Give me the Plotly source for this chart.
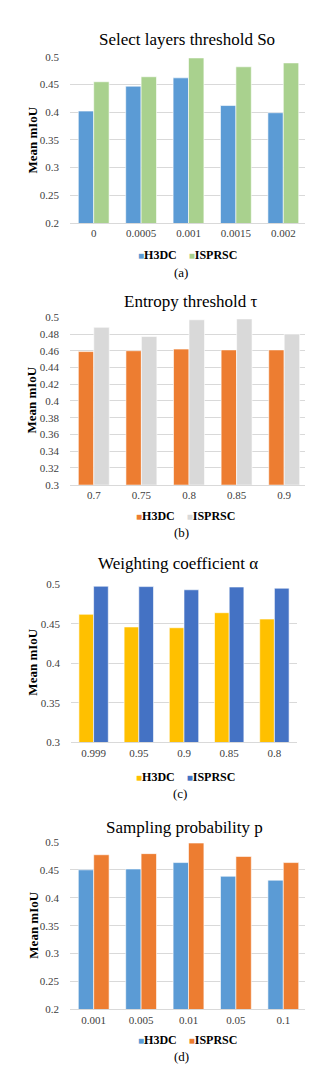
import plotly.graph_objects as go

# ---- data ----
cats_a = ["0", "0.0005", "0.001", "0.0015", "0.002"]
h3dc_a = [0.402, 0.447, 0.462, 0.412, 0.399]
isprsc_a = [0.455, 0.464, 0.498, 0.482, 0.489]

cats_b = ["0.7", "0.75", "0.8", "0.85", "0.9"]
h3dc_b = [0.459, 0.460, 0.462, 0.461, 0.461]
isprsc_b = [0.488, 0.477, 0.497, 0.498, 0.480]

cats_c = ["0.999", "0.95", "0.9", "0.85", "0.8"]
h3dc_c = [0.462, 0.446, 0.445, 0.464, 0.456]
isprsc_c = [0.4975, 0.497, 0.493, 0.4965, 0.495]

cats_d = ["0.001", "0.005", "0.01", "0.05", "0.1"]
h3dc_d = [0.450, 0.4515, 0.463, 0.4385, 0.4315]
isprsc_d = [0.477, 0.479, 0.498, 0.474, 0.463]

titles = ["Select layers threshold So", "Entropy threshold τ",
          "Weighting coefficient α", "Sampling probability p"]
captions = ["(a)", "(b)", "(c)", "(d)"]
series_names = ["H3DC", "ISPRSC"]

W, H = 313, 1070
SERIF = "Liberation Serif, Times New Roman, serif"

panels = [
    dict(cats=cats_a, s1=h3dc_a, s2=isprsc_a, c1="#5B9BD5", c2="#A9D18E",
         yr=[0.2, 0.5], dt=0.05, xpx=[62, 299], ypx=[43.3, 211.3],
         title_xy=(179, 26), leg_xy=(179, 244), cap_xy=(173, 261), ytitle_xy=(25, 128)),
    dict(cats=cats_b, s1=h3dc_b, s2=isprsc_b, c1="#ED7D31", c2="#D9D9D9",
         yr=[0.3, 0.5], dt=0.02, xpx=[62, 300], ypx=[306.7, 476],
         title_xy=(183, 291), leg_xy=(178, 508), cap_xy=(173, 524), ytitle_xy=(24, 391)),
    dict(cats=cats_c, s1=h3dc_c, s2=isprsc_c, c1="#FFC000", c2="#4472C4",
         yr=[0.3, 0.5], dt=0.05, xpx=[63, 289], ypx=[576.7, 736.7],
         title_xy=(170, 556), leg_xy=(177, 772), cap_xy=(172, 788), ytitle_xy=(25, 656)),
    dict(cats=cats_d, s1=h3dc_d, s2=isprsc_d, c1="#5B9BD5", c2="#ED7D31",
         yr=[0.2, 0.5], dt=0.05, xpx=[62, 299], ypx=[837.3, 1006.7],
         title_xy=(176, 823), leg_xy=(179, 1038), cap_xy=(173, 1054), ytitle_xy=(26, 922)),
]

fig = go.Figure()
annotations = []
layout_axes = {}

def px_x(x):
    return x / W

def px_y(y):
    return 1 - y / H

for i, p in enumerate(panels, start=1):
    xa = "x" if i == 1 else f"x{i}"
    ya = "y" if i == 1 else f"y{i}"
    for name, vals, col in [(series_names[0], p["s1"], p["c1"]),
                            (series_names[1], p["s2"], p["c2"])]:
        fig.add_trace(go.Bar(x=p["cats"], y=vals, name=name, xaxis=xa, yaxis=ya,
                             marker=dict(color=col, line=dict(color="white", width=0.6)),
                             showlegend=False))
    xkey = "xaxis" if i == 1 else f"xaxis{i}"
    ykey = "yaxis" if i == 1 else f"yaxis{i}"
    layout_axes[xkey] = dict(
        domain=[px_x(p["xpx"][0]), px_x(p["xpx"][1])],
        anchor=ya, showgrid=False, showline=True, linecolor="#D9D9D9", linewidth=1,
        ticks="", tickfont=dict(family=SERIF, size=11, color="#404040"),
        fixedrange=True,
    )
    layout_axes[ykey] = dict(
        domain=[px_y(p["ypx"][1]), px_y(p["ypx"][0])],
        anchor=xa, range=p["yr"], dtick=p["dt"], tick0=0,
        showgrid=True, gridcolor="#D9D9D9", gridwidth=1, zeroline=False,
        showline=False, ticks="", ticklabelstandoff=10,
        tickfont=dict(family=SERIF, size=11, color="#404040"),
        fixedrange=True,
    )
    tx, ty = p["title_xy"]
    annotations.append(dict(text=titles[i - 1], x=px_x(tx), y=px_y(ty), xref="paper", yref="paper",
                            showarrow=False, xanchor="center", yanchor="middle",
                            font=dict(family=SERIF, size=17, color="#000000")))
    cx, cy = p["cap_xy"]
    annotations.append(dict(text=captions[i - 1], x=px_x(cx), y=px_y(cy), xref="paper", yref="paper",
                            showarrow=False, xanchor="center", yanchor="middle",
                            font=dict(family=SERIF, size=13, color="#000000")))
    yx, yy = p["ytitle_xy"]
    annotations.append(dict(text="<b>Mean mIoU</b>", x=px_x(yx), y=px_y(yy), xref="paper", yref="paper",
                            showarrow=False, xanchor="center", yanchor="middle", textangle=-90,
                            font=dict(family=SERIF, size=13, color="#000000")))
    lx, ly = p["leg_xy"]
    leg_text = (f'<span style="color:{p["c1"]};font-size:10px">■</span><b>{series_names[0]}</b>'
                f'&nbsp;&nbsp;&nbsp;&nbsp;<span style="color:{p["c2"]};font-size:10px">■</span><b>{series_names[1]}</b>')
    annotations.append(dict(text=leg_text, x=px_x(lx), y=px_y(ly), xref="paper", yref="paper",
                            showarrow=False, xanchor="center", yanchor="middle",
                            font=dict(family=SERIF, size=12, color="#000000")))

fig.update_layout(
    width=W, height=H,
    margin=dict(l=0, r=0, t=0, b=0),
    paper_bgcolor="white", plot_bgcolor="white",
    barmode="group", bargap=0.35, bargroupgap=0,
    annotations=annotations,
    **layout_axes,
)

fig.write_html("out.html", config={"displayModeBar": False})
